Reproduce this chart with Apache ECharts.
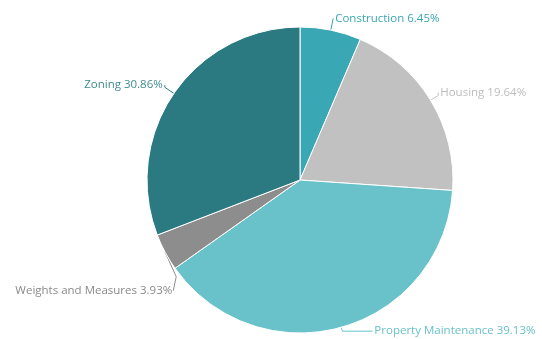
<!DOCTYPE html>
<html>
<head>
<meta charset="utf-8">
<script src="https://cdn.jsdelivr.net/npm/echarts@6/dist/echarts.min.js"></script>
<style>
  html, body { margin: 0; padding: 0; background: #ffffff; }
  #chart { width: 542px; height: 339px; }
</style>
</head>
<body>
<div id="chart"></div>
<script>
// Share of inspections by division (percent)
const categories = ['Construction', 'Housing', 'Property Maintenance', 'Weights and Measures', 'Zoning'];
const shares = [6.45, 19.64, 39.13, 3.93, 30.86];
const sliceColors = ['#3aa7b4', '#c1c1c1', '#69c2ca', '#8d8d8d', '#2c7a81'];
const labelColors = ['#3aa7b4', '#bdbdbd', '#69c2ca', '#8a8a8a', '#3f8a90'];
// connector segment lengths for each slice label
const lineLen = [12, 9, 4, 18, 11];
const lineLen2 = [0, 0, 30, 4, 0];

const data = categories.map((name, i) => ({
  name: name,
  value: shares[i],
  itemStyle: { color: sliceColors[i] },
  label: { color: labelColors[i] },
  labelLine: { length: lineLen[i], length2: lineLen2[i] }
}));

// Nudges for a few labels; the connector is bent to follow the moved text.
function layoutLabel(p) {
  const pts = p.labelLinePoints;
  if (!pts) return {};
  if (p.dataIndex === 3) {
    // thin wedge: drop its label below it with a bent connector
    const dx = 29, dy = 30;
    const lr = p.labelRect;
    const endX = lr.x + lr.width + dx + 1;
    const endY = lr.y + lr.height / 2 + dy;
    return {
      dx: dx,
      dy: dy,
      labelLinePoints: [pts[0].slice(), [endX + 3, endY - 14], [endX, endY]]
    };
  }
  if (p.dataIndex === 1 || p.dataIndex === 4) {
    const dy = p.dataIndex === 1 ? -3 : -2;
    const last = pts[pts.length - 1];
    return {
      dy: dy,
      labelLinePoints: [pts[0].slice(), pts[1].slice(), [last[0], last[1] + dy]]
    };
  }
  return {};
}

const chart = echarts.init(document.getElementById('chart'), null, { renderer: 'canvas' });
chart.setOption({
  animation: false,
  series: [{
    type: 'pie',
    center: [300, 180],
    radius: 153,
    startAngle: 90,
    clockwise: true,
    avoidLabelOverlap: false,
    data: data,
    itemStyle: { borderColor: '#ffffff', borderWidth: 1 },
    label: {
      show: true,
      position: 'outside',
      fontFamily: 'Open Sans',
      fontSize: 11.5,
      distanceToLabelLine: 2,
      formatter: p => p.name + ' ' + p.value.toFixed(2) + '%'
    },
    labelLine: {
      show: true,
      smooth: false,
      lineStyle: { width: 1 }
    },
    labelLayout: layoutLabel,
    emphasis: { disabled: true }
  }]
});
</script>
</body>
</html>
